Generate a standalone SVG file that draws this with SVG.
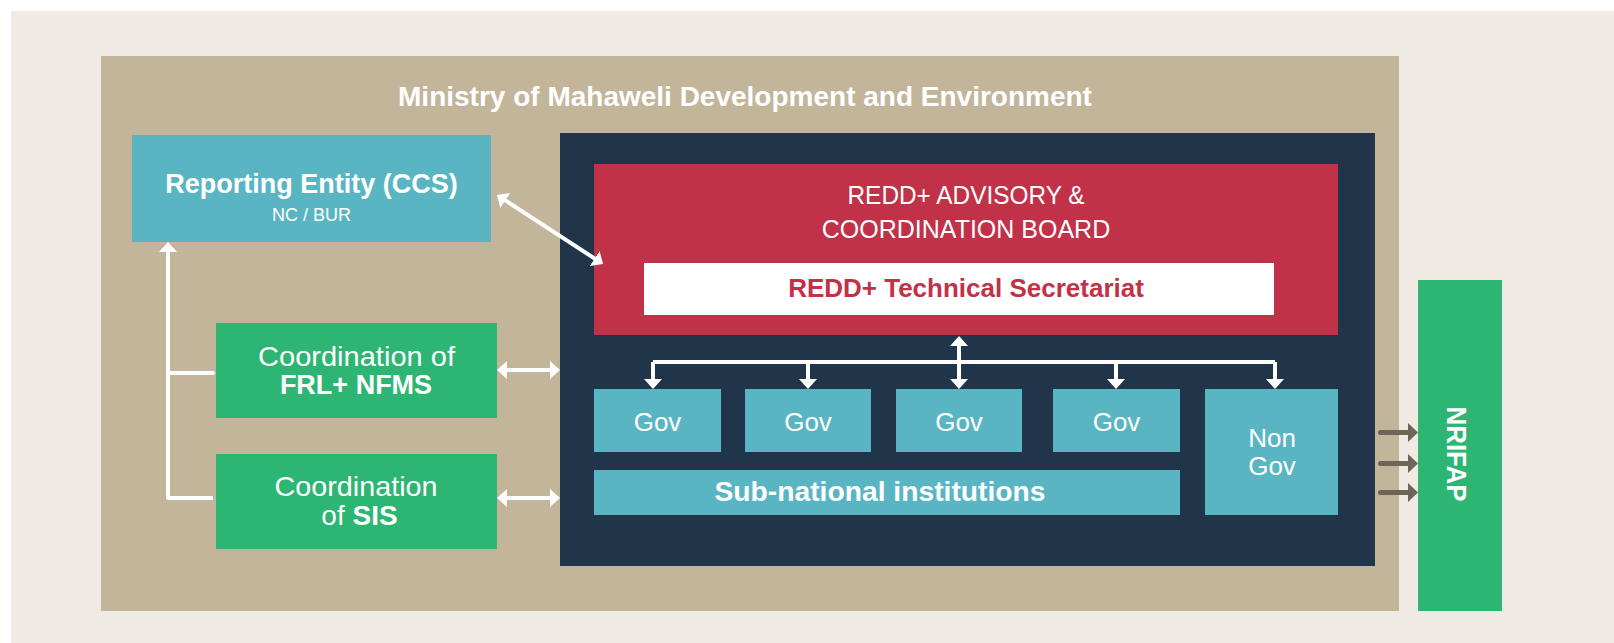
<svg xmlns="http://www.w3.org/2000/svg" width="1614" height="643" viewBox="0 0 1614 643">
<style>
text{font-family:"Liberation Sans",Arial,sans-serif;fill:#fff;text-anchor:middle}
.b{font-weight:bold}
.w{stroke:#fff;stroke-width:4;fill:none}
.br{stroke:#6E6457;stroke-width:5;fill:none;stroke-linecap:round}
</style>
<defs>
<marker id="aw" viewBox="0 0 10 18" refX="1" refY="9" markerWidth="10" markerHeight="18" markerUnits="userSpaceOnUse" orient="auto-start-reverse">
<path d="M0,0 L10,9 L0,18 Z" fill="#fff"/>
</marker>
<marker id="ab" viewBox="0 0 10 19" refX="1" refY="9.5" markerWidth="10" markerHeight="19" markerUnits="userSpaceOnUse" orient="auto">
<path d="M0,0 L10,9.5 L0,19 Z" fill="#6E6457"/>
</marker>
</defs>
<rect width="1614" height="643" fill="#fff"/>
<rect x="11" y="11" width="1603" height="632" fill="#EFEBE4"/>
<g id="ministry">
<rect x="101" y="56" width="1298" height="555" fill="#C3B59A"/>
<text class="b" x="745" y="106" font-size="28">Ministry of Mahaweli Development and Environment</text>
</g>
<g id="reporting">
<rect x="132" y="135" width="359" height="107" fill="#5AB5C3"/>
<text class="b" x="311.5" y="193" font-size="27">Reporting Entity (CCS)</text>
<text x="311.5" y="221" font-size="18">NC / BUR</text>
</g>
<g id="frl">
<rect x="216" y="323" width="281" height="95" fill="#2DB673"/>
<text x="356.5" y="366" font-size="28" textLength="197" lengthAdjust="spacingAndGlyphs">Coordination of</text>
<text class="b" x="356" y="394" font-size="27">FRL+ NFMS</text>
</g>
<g id="sis">
<rect x="216" y="454" width="281" height="95" fill="#2DB673"/>
<text x="356" y="496" font-size="28" textLength="163" lengthAdjust="spacingAndGlyphs">Coordination</text>
<text x="359.5" y="524.5" font-size="28">of <tspan class="b" font-weight="bold">SIS</tspan></text>
</g>
<g id="redd-panel">
<rect x="560" y="133" width="815" height="433" fill="#21354A"/>
</g>
<g id="board">
<rect x="594" y="164" width="744" height="171" fill="#C13148"/>
<text x="966" y="204" font-size="25" textLength="237" lengthAdjust="spacingAndGlyphs">REDD+ ADVISORY &amp;</text>
<text x="966" y="238" font-size="25">COORDINATION BOARD</text>
</g>
<g id="secretariat">
<rect x="644" y="263" width="630" height="52" fill="#fff"/>
<text class="b" x="966" y="297" font-size="26" style="fill:#C13148">REDD+ Technical Secretariat</text>
</g>
<g id="gov1"><rect x="594" y="389" width="127" height="63" fill="#5AB5C3"/><text x="657.5" y="431" font-size="26">Gov</text></g>
<g id="gov2"><rect x="745" y="389" width="126" height="63" fill="#5AB5C3"/><text x="808" y="431" font-size="26">Gov</text></g>
<g id="gov3"><rect x="896" y="389" width="126" height="63" fill="#5AB5C3"/><text x="959" y="431" font-size="26">Gov</text></g>
<g id="gov4"><rect x="1053" y="389" width="127" height="63" fill="#5AB5C3"/><text x="1116.5" y="431" font-size="26">Gov</text></g>
<g id="nongov"><rect x="1205" y="389" width="133" height="126" fill="#5AB5C3"/><text x="1272" y="447" font-size="26">Non</text><text x="1272" y="475" font-size="26">Gov</text></g>
<g id="subnational"><rect x="594" y="470" width="586" height="45" fill="#5AB5C3"/><text class="b" x="880" y="501" font-size="27" textLength="331" lengthAdjust="spacingAndGlyphs">Sub-national institutions</text></g>
<g id="nrifap">
<rect x="1418" y="280" width="84" height="331" fill="#2DB673"/>
<text class="b" font-size="28" transform="translate(1447,454) rotate(90)" textLength="95" lengthAdjust="spacingAndGlyphs">NRIFAP</text>
</g>
<g id="connectors">
<path class="w" d="M168,251 V498 H213" marker-start="url(#aw)" stroke-linejoin="round"/>
<path class="w" d="M168,373 H213" stroke-linecap="round"/>
<path class="w" d="M506,370 H551" marker-start="url(#aw)" marker-end="url(#aw)"/>
<path class="w" d="M506,498 H551" marker-start="url(#aw)" marker-end="url(#aw)"/>
<path class="w" d="M504.5,199.9 L595.5,259.1" marker-start="url(#aw)" marker-end="url(#aw)"/>
<path class="w" d="M653,362 H1275" stroke-linejoin="round"/>
<path class="w" d="M653,362 V380" marker-end="url(#aw)"/>
<path class="w" d="M808,362 V380" marker-end="url(#aw)"/>
<path class="w" d="M959,345 V380" marker-start="url(#aw)" marker-end="url(#aw)"/>
<path class="w" d="M1116,362 V380" marker-end="url(#aw)"/>
<path class="w" d="M1275,362 V380" marker-end="url(#aw)"/>
<path class="br" d="M1380.5,432.5 H1409" marker-end="url(#ab)"/>
<path class="br" d="M1380.5,463.5 H1409" marker-end="url(#ab)"/>
<path class="br" d="M1380.5,492.5 H1409" marker-end="url(#ab)"/>
</g>
</svg>
